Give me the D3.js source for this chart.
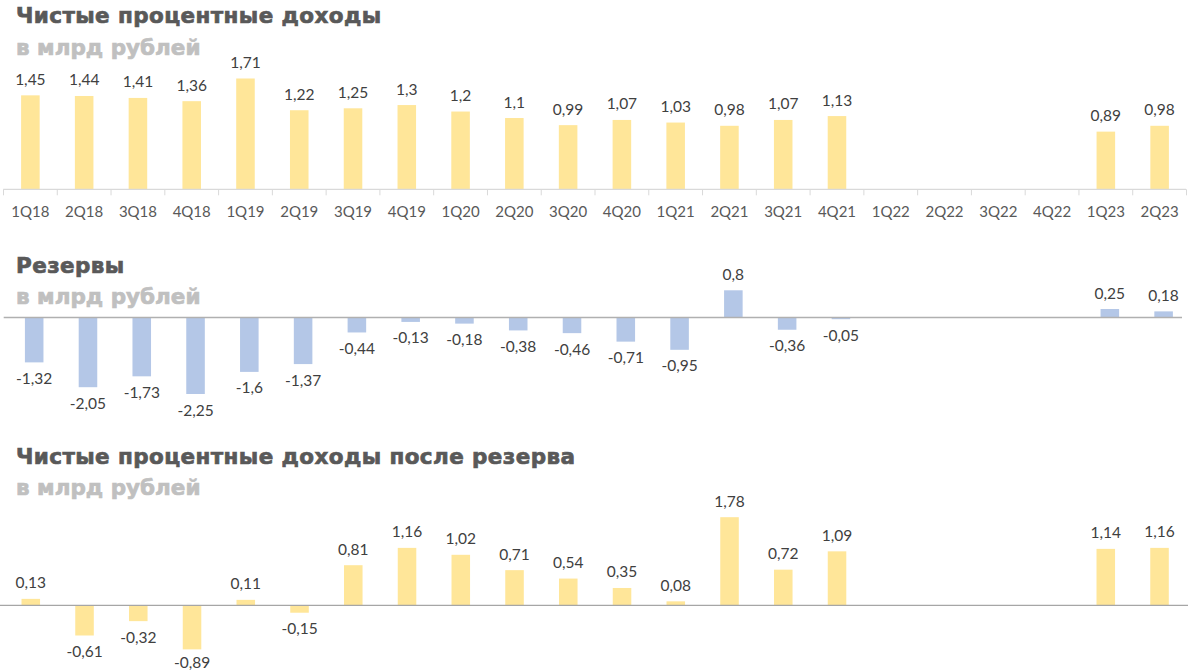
<!DOCTYPE html>
<html><head><meta charset="utf-8">
<script src="https://cdn.jsdelivr.net/npm/d3@7"></script>
<style>
html,body{margin:0;padding:0;background:#fff;}
svg{display:block;}
</style></head>
<body>
<svg id="c" width="1200" height="671"></svg>
<script>
const categories = ["1Q18","2Q18","3Q18","4Q18","1Q19","2Q19","3Q19","4Q19","1Q20","2Q20","3Q20","4Q20","1Q21","2Q21","3Q21","4Q21","1Q22","2Q22","3Q22","4Q22","1Q23","2Q23"];
const netInterest = [1.45,1.44,1.41,1.36,1.71,1.22,1.25,1.3,1.2,1.1,0.99,1.07,1.03,0.98,1.07,1.13,null,null,null,null,0.89,0.98];
const reserves = [-1.32,-2.05,-1.73,-2.25,-1.6,-1.37,-0.44,-0.13,-0.18,-0.38,-0.46,-0.71,-0.95,0.8,-0.36,-0.05,null,null,null,null,0.25,0.18];
const netAfterReserve = [0.13,-0.61,-0.32,-0.89,0.11,-0.15,0.81,1.16,1.02,0.71,0.54,0.35,0.08,1.78,0.72,1.09,null,null,null,null,1.14,1.16];
const titles = ["Чистые процентные доходы","Резервы","Чистые процентные доходы после резерва"];
const subtitle = "в млрд рублей";

const svg = d3.select("#c");
const fmt = v => String(v).replace(".", ",");

const panels = [
  {data: netInterest, color:"#ffe699", title:titles[0], tY:23.3, sY:55, base:189.3, ppu:64.8, xr:[3.5,1186.5], line:[3.3,1186], lineColor:"#d9d9d9", axis:true},
  {data: reserves, color:"#b4c7e7", title:titles[1], tY:272.7, sY:304.3, base:317.5, ppu:34, xr:[7.3,1190.5], line:[3.7,1182], lineColor:"#b0b0b0", axis:false},
  {data: netAfterReserve, color:"#ffe699", title:titles[2], tY:464.3, sY:495, base:605.3, ppu:49.5, xr:[3.9,1186.4], line:[0,1188], lineColor:"#a6a6a6", axis:false}
];

panels.forEach(p => {
  const g = svg.append("g");
  g.append("text").attr("x",16).attr("y",p.tY)
    .attr("font-family","DejaVu Sans").attr("font-weight","bold").attr("font-size",21.5)
    .attr("fill","#595959").attr("stroke","#595959").attr("stroke-width",0.7)
    .attr("letter-spacing",0.4).text(p.title);
  g.append("text").attr("x",16).attr("y",p.sY)
    .attr("font-family","DejaVu Sans").attr("font-weight","bold").attr("font-size",21.5)
    .attr("fill","#c0c0c0").attr("stroke","#c0c0c0").attr("stroke-width",0.7)
    .text(subtitle);

  const x = d3.scaleBand().domain(categories).range(p.xr).paddingInner(0.655).paddingOuter(0.3275);
  const y = d3.scaleLinear().domain([0,1]).range([p.base, p.base - p.ppu]);
  const rows = categories.map((c,i)=>({c, v:p.data[i]})).filter(d => d.v !== null);

  g.selectAll("rect.bar").data(rows).enter().append("rect")
    .attr("class","bar")
    .attr("x", d => x(d.c))
    .attr("width", x.bandwidth())
    .attr("y", d => Math.min(y(d.v), y(0)))
    .attr("height", d => Math.abs(y(d.v) - y(0)))
    .attr("fill", p.color);

  g.append("line").attr("x1",p.line[0]).attr("x2",p.line[1])
    .attr("y1",y(0)).attr("y2",y(0)).attr("stroke",p.lineColor).attr("stroke-width",1.3);

  g.selectAll("text.lbl").data(rows).enter().append("text")
    .attr("class","lbl")
    .attr("x", d => x(d.c) + x.bandwidth()/2)
    .attr("y", d => d.v >= 0 ? y(d.v) - 10.5 : Math.min(y(d.v) + 21.5, 667.5))
    .attr("text-anchor","middle")
    .attr("font-family","Lato").attr("font-size",15.5).attr("fill","#404040")
    .text(d => fmt(d.v));

  if (p.axis) {
    const step = x.step();
    const bounds = d3.range(categories.length + 1).map(i => p.xr[0] + i*step);
    g.selectAll("line.tick").data(bounds).enter().append("line")
      .attr("x1", d => d).attr("x2", d => d)
      .attr("y1", y(0)).attr("y2", y(0) + 6)
      .attr("stroke", p.lineColor).attr("stroke-width",1);
    g.selectAll("text.cat").data(categories).enter().append("text")
      .attr("x", d => x(d) + x.bandwidth()/2)
      .attr("y", 216.7)
      .attr("text-anchor","middle")
      .attr("font-family","Lato").attr("font-size",15).attr("fill","#595959")
      .text(d => d);
  }
});
</script>
</body></html>
